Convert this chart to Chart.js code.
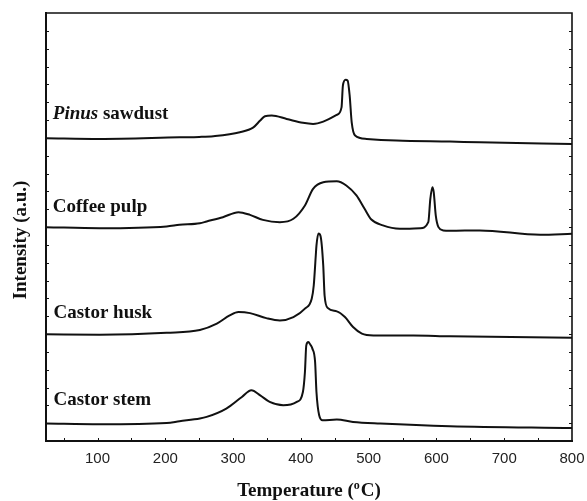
<!DOCTYPE html>
<html>
<head>
<meta charset="utf-8">
<title>DTG curves</title>
<script src="https://cdn.jsdelivr.net/npm/chart.js@4"></script>
<style>
  html, body { margin: 0; padding: 0; background: #fff; }
  #wrap { width: 587px; height: 501px; }
</style>
</head>
<body>
<div id="wrap"><canvas id="dtgChart"></canvas></div>
<script>
// ===========================================================
//                 DTG DATA (stacked, offset a.u.)
// ===========================================================

const pinusT = [24, 103, 221, 250, 271, 310, 330, 340, 347, 357, 379, 403, 418, 433, 453, 460, 462, 466, 469, 472, 475, 480, 497, 541, 620, 664, 800];
const pinusI = [16.98, 16.94, 17.03, 17.05, 17.09, 17.31, 17.59, 17.97, 18.21, 18.25, 18.06, 17.84, 17.78, 17.91, 18.29, 18.71, 19.93, 20.26, 20.21, 19.37, 17.87, 17.13, 16.94, 16.85, 16.79, 16.75, 16.66];

const coffeeT = [24, 103, 202, 221, 251, 261, 285, 308, 325, 344, 369, 389, 406, 418, 433, 453, 467, 482, 494, 504, 521, 546, 576, 588, 591, 594, 596, 599, 603, 610, 620, 664, 753, 800];
const coffeeI = [11.99, 11.93, 12.03, 12.12, 12.21, 12.31, 12.55, 12.83, 12.68, 12.40, 12.27, 12.46, 13.21, 14.14, 14.51, 14.57, 14.33, 13.77, 13.02, 12.42, 12.09, 11.90, 11.93, 12.27, 13.58, 14.23, 13.95, 12.65, 11.99, 11.81, 11.79, 11.81, 11.56, 11.62];

const huskT = [24, 103, 202, 251, 276, 295, 308, 325, 349, 369, 389, 406, 416, 419, 422, 423, 426, 429, 433, 435, 440, 453, 465, 477, 490, 507, 566, 620, 800];
const huskI = [5.98, 5.96, 6.07, 6.22, 6.58, 7.04, 7.23, 7.17, 6.89, 6.76, 6.95, 7.42, 7.98, 8.72, 10.40, 10.96, 11.64, 11.50, 9.85, 8.16, 7.45, 7.27, 6.95, 6.39, 6.02, 5.92, 5.92, 5.87, 5.79];

const stemT = [24, 103, 202, 221, 251, 261, 290, 313, 327, 340, 354, 374, 394, 403, 406, 408, 411, 414, 417, 421, 423, 427, 432, 453, 477, 517, 620, 800];
const stemI = [0.98, 0.94, 1.01, 1.11, 1.26, 1.35, 1.82, 2.47, 2.84, 2.56, 2.19, 2.00, 2.19, 2.75, 3.87, 5.36, 5.55, 5.40, 5.18, 4.43, 2.75, 1.44, 1.16, 1.20, 1.07, 0.98, 0.83, 0.73];

// curve names and where their label sits (temperature, intensity baseline)
const seriesNames = ['Pinus sawdust', 'Coffee pulp', 'Castor husk', 'Castor stem'];
const labelT = [34, 34, 35, 35];
const labelI = [18.06, 12.83, 6.89, 2.04];

const xMin = 24, xMax = 800, xStep = 50;
const yMin = 0, yMax = 24;

// ===========================================================
//                       HELPERS
// ===========================================================

function toPoints(xs, ys) {
    return xs.map((x, i) => ({ x: x, y: ys[i] }));
}

const SERIF = '"Liberation Serif", "Times New Roman", serif';
const SANS = '"Liberation Sans", Arial, sans-serif';
const INK = '#111';

// frame, inward ticks, curve names and axis titles
const decorPlugin = {
    id: 'decor',
    afterDraw(chart) {
        const ctx = chart.ctx;
        const a = chart.chartArea;
        const xs = chart.scales.x;
        const ys = chart.scales.y;

        ctx.save();
        ctx.strokeStyle = INK;

        // top + right edges of the box
        ctx.lineWidth = 1.6;
        ctx.beginPath();
        ctx.moveTo(a.left, a.top);
        ctx.lineTo(a.right, a.top);
        ctx.lineTo(a.right, a.bottom);
        ctx.stroke();

        // inward ticks
        ctx.lineWidth = 1;
        ctx.beginPath();
        xs.ticks.forEach(t => {
            if (t.value <= xMin || t.value >= xMax) return;
            const px = Math.round(xs.getPixelForValue(t.value)) + 0.5;
            ctx.moveTo(px, a.bottom);
            ctx.lineTo(px, a.bottom - 3);
        });
        ys.ticks.forEach(t => {
            if (t.value <= yMin || t.value >= yMax) return;
            const py = Math.round(ys.getPixelForValue(t.value)) + 0.5;
            ctx.moveTo(a.left, py);
            ctx.lineTo(a.left + 3, py);
            ctx.moveTo(a.right, py);
            ctx.lineTo(a.right - 3, py);
        });
        ctx.stroke();

        // curve names
        ctx.fillStyle = INK;
        ctx.textBaseline = 'alphabetic';
        ctx.textAlign = 'left';
        seriesNames.forEach((name, i) => {
            let px = xs.getPixelForValue(labelT[i]);
            const py = ys.getPixelForValue(labelI[i]);
            if (name.startsWith('Pinus')) {
                ctx.font = 'italic bold 19px ' + SERIF;
                ctx.fillText('Pinus', px, py);
                px += ctx.measureText('Pinus').width;
                ctx.font = 'bold 19px ' + SERIF;
                ctx.fillText(' sawdust', px, py);
            } else {
                ctx.font = 'bold 19px ' + SERIF;
                ctx.fillText(name, px, py);
            }
        });

        // x title with raised "o"
        ctx.font = 'bold 19px ' + SERIF;
        const partA = 'Temperature (';
        const partC = 'C)';
        const small = 'bold 12px ' + SERIF;
        const wA = ctx.measureText(partA).width;
        const wC = ctx.measureText(partC).width;
        ctx.font = small;
        const wO = ctx.measureText('o').width + 1;
        const total = wA + wO + wC;
        let tx = (a.left + a.right) / 2 - total / 2;
        const ty = 496;
        ctx.font = 'bold 19px ' + SERIF;
        ctx.fillText(partA, tx, ty);
        tx += wA;
        ctx.font = small;
        ctx.fillText('o', tx, ty - 7);
        tx += wO;
        ctx.font = 'bold 19px ' + SERIF;
        ctx.fillText(partC, tx, ty);

        // y title
        ctx.translate(21, 240);
        ctx.rotate(-Math.PI / 2);
        ctx.textAlign = 'center';
        ctx.textBaseline = 'middle';
        ctx.fillText('Intensity (a.u.)', 0, 0);

        ctx.restore();
    }
};

// ===========================================================
//                          CHART
// ===========================================================

function lineSet(label, xs, ys) {
    return {
        label: label,
        data: toPoints(xs, ys),
        borderColor: INK,
        borderWidth: 2,
        pointRadius: 0,
        fill: false,
        cubicInterpolationMode: 'monotone'
    };
}

new Chart(document.getElementById('dtgChart'), {
    type: 'line',
    data: {
        datasets: [
            lineSet(seriesNames[0], pinusT, pinusI),
            lineSet(seriesNames[1], coffeeT, coffeeI),
            lineSet(seriesNames[2], huskT, huskI),
            lineSet(seriesNames[3], stemT, stemI)
        ]
    },
    options: {
        responsive: true,
        maintainAspectRatio: false,
        animation: false,
        layout: { padding: { top: 13, right: 15, left: 0, bottom: 0 } },
        plugins: {
            legend: { display: false },
            tooltip: { enabled: false }
        },
        scales: {
            x: {
                type: 'linear',
                min: xMin,
                max: xMax,
                ticks: {
                    stepSize: xStep,
                    includeBounds: false,
                    autoSkip: false,
                    maxRotation: 0,
                    padding: 9,
                    color: '#222',
                    font: { family: SANS, size: 15 },
                    callback: v => (v % 100 === 0 ? String(v) : '')
                },
                grid: { drawOnChartArea: false, drawTicks: false },
                border: { display: true, color: INK, width: 2 },
                afterFit: s => {
                    s.height = 60;
                    s.paddingLeft = 0;
                    s.paddingRight = 0;
                }
            },
            y: {
                min: yMin,
                max: yMax,
                ticks: { display: false, stepSize: 1 },
                grid: { drawOnChartArea: false, drawTicks: false },
                border: { display: true, color: INK, width: 2 },
                afterFit: s => {
                    s.width = 46;
                    s.paddingTop = 0;
                    s.paddingBottom = 0;
                }
            }
        }
    },
    plugins: [decorPlugin]
});
</script>
</body>
</html>
